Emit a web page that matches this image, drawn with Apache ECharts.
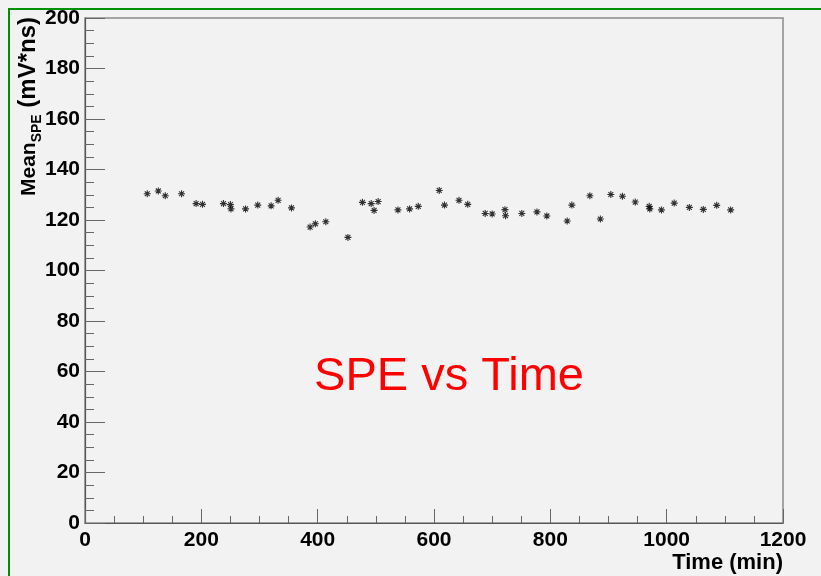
<!DOCTYPE html>
<html>
<head>
<meta charset="utf-8">
<script src="https://cdn.jsdelivr.net/npm/echarts@6/dist/echarts.min.js"></script>
<style>
  html, body { margin: 0; padding: 0; background: #f2f2f2; }
  #chart { width: 821px; height: 576px; }
</style>
</head>
<body>
<div id="chart"></div>
<script>
// Elapsed time of each measurement (minutes)
const timeMin = [107, 126, 138, 166, 191, 202, 238, 250, 251, 276,
                 297, 320, 332, 355, 387, 396, 414, 452, 477, 492,
                 497, 504, 538, 558, 573, 609, 618, 643, 658, 688,
                 700, 722, 723, 751, 777, 794, 829, 837, 868, 886,
                 904, 924, 946, 970, 971, 991, 1013, 1039, 1063, 1086,
                 1110];
// Mean single-photoelectron charge at each time (mV*ns)
const meanSpe = [130.4, 131.5, 129.6, 130.4, 126.5, 126.2, 126.5, 126.1, 124.4, 124.4,
                 125.9, 125.6, 127.8, 124.8, 117.2, 118.5, 119.3, 113.1, 127.0, 126.5,
                 123.8, 127.3, 124.0, 124.4, 125.4, 131.7, 125.9, 127.8, 126.2, 122.6,
                 122.4, 124.1, 121.7, 122.6, 123.2, 121.6, 119.6, 125.9, 129.6, 120.4,
                 130.1, 129.4, 127.1, 125.4, 124.4, 124.0, 126.7, 125.0, 124.2, 125.8,
                 124.0];

const xRange = { min: 0, max: 1200, step: 200 };
const yRange = { min: 0, max: 200, step: 20 };

const titleText = 'SPE vs Time';
const xTitle = 'Time (min)';

const points = timeMin.map((t, i) => [t, meanSpe[i]]);

const FONT = '"Liberation Sans", Arial, sans-serif';
const asterisk = 'path://M0,-4L0,4M-4,0L4,0M-2.8,-2.8L2.8,2.8M-2.8,2.8L2.8,-2.8';

const chart = echarts.init(document.getElementById('chart'), null, { renderer: 'canvas' });

chart.setOption({
  backgroundColor: '#f2f2f2',
  animation: false,
  grid: {
    left: 85, right: 38, top: 18, bottom: 53,
    show: true, borderColor: '#8a8a8a', borderWidth: 1.5, backgroundColor: 'transparent'
  },
  xAxis: {
    type: 'value',
    min: xRange.min, max: xRange.max, interval: xRange.step,
    axisLine: { show: true, lineStyle: { color: '#555', width: 1.2 } },
    axisTick: { show: true, inside: true, length: 14, lineStyle: { color: '#666' } },
    minorTick: { show: true, splitNumber: 4, length: 7, lineStyle: { color: '#666' } },
    splitLine: { show: false },
    axisLabel: {
      color: '#000', fontFamily: FONT, fontWeight: 'bold', fontSize: 21, margin: 7,
      formatter: v => String(v)
    }
  },
  yAxis: {
    type: 'value',
    min: yRange.min, max: yRange.max, interval: yRange.step,
    axisLine: { show: true, lineStyle: { color: '#555', width: 1.2 } },
    axisTick: { show: true, inside: true, length: 20, lineStyle: { color: '#666' } },
    minorTick: { show: true, splitNumber: 4, length: 9, lineStyle: { color: '#666' } },
    splitLine: { show: false },
    axisLabel: {
      color: '#000', fontFamily: FONT, fontWeight: 'bold', fontSize: 21, margin: 5,
      formatter: v => String(v)
    }
  },
  series: [{
    type: 'scatter',
    data: points,
    symbol: asterisk,
    symbolSize: 7,
    itemStyle: { color: 'rgba(0,0,0,0)', borderColor: '#000', borderWidth: 1.1 }
  }],
  graphic: [
    {
      // outer canvas frame
      type: 'rect',
      shape: { x: 9, y: 9, width: 830, height: 600 },
      style: { fill: 'none', stroke: '#009000', lineWidth: 2 },
      silent: true
    },
    {
      type: 'text',
      x: 449, y: 377,
      style: {
        text: titleText, fill: '#ff0000',
        font: 'normal 47px ' + FONT,
        align: 'center', verticalAlign: 'middle'
      }
    },
    {
      type: 'text',
      x: 783, y: 563,
      style: {
        text: xTitle, fill: '#000',
        font: 'bold 22px ' + FONT,
        align: 'right', verticalAlign: 'middle'
      }
    },
    {
      type: 'text',
      x: 30, y: 17,
      rotation: Math.PI / 2,
      style: {
        text: '{m|Mean}{s|SPE}{p| (mV*ns)}',
        align: 'right', verticalAlign: 'middle',
        rich: {
          m: { fontFamily: FONT, fontWeight: 'bold', fontSize: 21, fill: '#000', verticalAlign: 'bottom', padding: [0, 0, 4, 0] },
          s: { fontFamily: FONT, fontWeight: 'bold', fontSize: 14, fill: '#000', verticalAlign: 'bottom' },
          p: { fontFamily: FONT, fontWeight: 'bold', fontSize: 24, fill: '#000', verticalAlign: 'bottom', padding: [0, 0, 4, 0] }
        }
      }
    }
  ]
});
</script>
</body>
</html>
